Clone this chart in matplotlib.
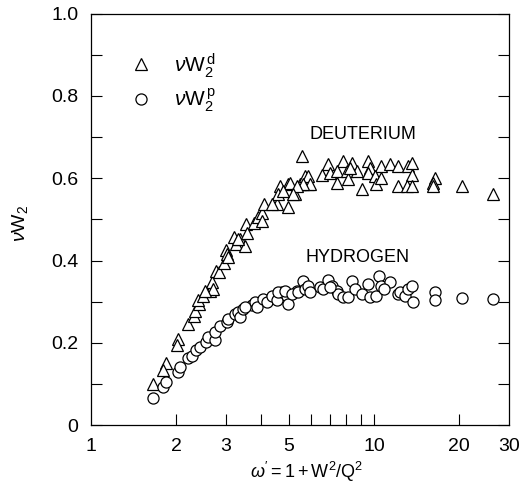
import matplotlib
matplotlib.use("Agg")
import matplotlib.pyplot as plt
from matplotlib.ticker import FixedLocator, NullFormatter, NullLocator

plt.rcParams['font.family'] = ['Liberation Sans', 'DejaVu Sans']
plt.rcParams['mathtext.fontset'] = 'custom'
plt.rcParams['mathtext.rm'] = 'Liberation Sans'
plt.rcParams['mathtext.it'] = 'Liberation Sans:italic'

# Deuterium (triangles): omega', nuW2
deut_x = [1.66, 1.84, 1.80, 2.03, 2.02, 2.21, 2.31, 2.33, 2.41, 2.39, 2.49, 2.63, 2.67, 2.70,
          2.77, 2.84, 2.95, 3.00, 3.02, 3.06, 3.21, 3.27, 3.36, 3.50, 3.52, 3.55, 3.77, 3.90,
          4.01, 4.10, 4.53, 4.98, 4.65, 4.98, 5.48, 5.86, 4.59, 5.26, 4.35, 4.01, 3.31, 2.53,
          5.55, 6.90, 7.80, 8.34, 9.55, 9.68, 10.6, 11.4, 6.53, 6.99, 7.38, 8.01, 8.69, 9.55,
          10.1, 5.70, 5.86, 5.94, 5.63, 5.05, 5.33, 5.19, 4.78, 7.38, 8.11, 9.05, 10.2, 12.2,
          12.2, 13.2, 13.6, 13.6, 13.1, 13.6, 10.6, 16.4, 16.2, 16.2, 20.4, 26.4, 8.22]
deut_y = [0.099, 0.150, 0.133, 0.210, 0.194, 0.246, 0.266, 0.278, 0.295, 0.303, 0.315, 0.327,
          0.347, 0.331, 0.375, 0.371, 0.395, 0.425, 0.416, 0.408, 0.458, 0.440, 0.452, 0.436,
          0.488, 0.468, 0.491, 0.506, 0.516, 0.538, 0.538, 0.529, 0.581, 0.585, 0.585, 0.585,
          0.561, 0.561, 0.537, 0.496, 0.452, 0.327, 0.654, 0.634, 0.642, 0.638, 0.642, 0.625,
          0.630, 0.634, 0.609, 0.613, 0.617, 0.617, 0.617, 0.613, 0.605, 0.605, 0.605, 0.585,
          0.585, 0.589, 0.581, 0.561, 0.569, 0.589, 0.597, 0.573, 0.585, 0.581, 0.630, 0.630,
          0.638, 0.609, 0.581, 0.581, 0.601, 0.601, 0.589, 0.581, 0.581, 0.561, 0.625]

# Hydrogen (circles): omega', nuW2
hyd_x = [1.66, 1.80, 1.85, 2.03, 2.06, 2.21, 2.27, 2.36, 2.43, 2.55, 2.60, 2.74, 2.74, 2.86,
         3.02, 3.06, 3.23, 3.31, 3.36, 3.45, 3.70, 3.80, 3.85, 4.06, 4.18, 4.35, 4.53, 4.72,
         4.92, 4.98, 5.33, 3.50, 4.59, 4.85, 5.12, 5.40, 5.63, 5.70, 5.86, 5.94, 6.44, 6.62,
         6.90, 7.09, 7.38, 7.48, 7.79, 8.11, 8.34, 8.57, 9.05, 9.55, 9.68, 10.2, 10.4, 6.99,
         10.6, 11.4, 12.2, 10.9, 12.4, 12.9, 13.2, 13.6, 13.8, 16.4, 16.4, 20.4, 26.4]
hyd_y = [0.066, 0.093, 0.105, 0.129, 0.141, 0.162, 0.169, 0.182, 0.190, 0.202, 0.214, 0.206,
         0.226, 0.240, 0.250, 0.258, 0.270, 0.274, 0.262, 0.283, 0.291, 0.299, 0.286, 0.307,
         0.299, 0.315, 0.303, 0.323, 0.315, 0.295, 0.327, 0.286, 0.323, 0.327, 0.319, 0.323,
         0.351, 0.331, 0.339, 0.323, 0.335, 0.331, 0.353, 0.339, 0.327, 0.319, 0.311, 0.311,
         0.351, 0.331, 0.319, 0.343, 0.311, 0.315, 0.363, 0.335, 0.339, 0.347, 0.319, 0.331,
         0.323, 0.315, 0.331, 0.339, 0.299, 0.323, 0.303, 0.308, 0.307]

x_ticks = [2, 3, 4, 5, 6, 7, 8, 9, 10, 20]
x_label_vals = [1, 2, 3, 5, 10, 20, 30]
x_label_txt = ["1", "2", "3", "5", "10", "20", "30"]
y_major = [0, 0.2, 0.4, 0.6, 0.8, 1.0]
y_major_txt = ["0", "0.2", "0.4", "0.6", "0.8", "1.0"]
y_minor = [0.1, 0.3, 0.5, 0.7, 0.9]

fig = plt.figure(figsize=(5.22, 4.87), dpi=100)
ax = fig.add_axes([0.174, 0.127, 0.801, 0.845])

ax.set_xscale('log')
ax.set_xlim(1, 30)
ax.set_ylim(0, 1.0)

ax.plot(deut_x, deut_y, linestyle='none', marker='^', markersize=9,
        markerfacecolor='white', markeredgecolor='black', markeredgewidth=0.9,
        label=r'$\nu\mathrm{W}_2^{\,\mathrm{d}}$')
ax.plot(hyd_x, hyd_y, linestyle='none', marker='o', markersize=8,
        markerfacecolor='white', markeredgecolor='black', markeredgewidth=0.9,
        label=r'$\nu\mathrm{W}_2^{\,\mathrm{p}}$')

# x ticks: inward marks at bottom, labels separately
ax.xaxis.set_major_locator(FixedLocator(x_ticks))
ax.xaxis.set_minor_locator(NullLocator())
ax.xaxis.set_major_formatter(NullFormatter())
ax.xaxis.set_minor_formatter(NullFormatter())
ax.tick_params(axis='x', which='major', direction='in', length=8, width=0.8,
               top=False, bottom=True)
for v, t in zip(x_label_vals, x_label_txt):
    ax.text(v, -0.032, t, transform=ax.get_xaxis_transform(), ha='center', va='top',
            fontsize=14)

ax.set_yticks(y_major)
ax.set_yticklabels(y_major_txt, fontsize=14)
ax.set_yticks(y_minor, minor=True)
ax.tick_params(axis='y', which='both', direction='in', length=8, width=0.8,
               left=True, right=True, pad=9)

for s in ax.spines.values():
    s.set_linewidth(0.9)

ax.set_xlabel(r"$\omega' = 1 + \mathrm{W}^2/\mathrm{Q}^2$", fontsize=13)
ax.xaxis.set_label_coords(0.515, -0.085)
ax.xaxis.label.set_va('top')
ax.set_ylabel(r"$\nu\mathrm{W}_2$", fontsize=14)
ax.yaxis.set_label_coords(-0.145, 0.49)

ax.text(9.15, 0.707, "DEUTERIUM", ha='center', va='center', fontsize=13)
ax.text(8.78, 0.407, "HYDROGEN", ha='center', va='center', fontsize=13)

ax.legend(loc='upper left', bbox_to_anchor=(0.04, 0.94), frameon=False, fontsize=15,
          handletextpad=0.6, labelspacing=0.35, borderaxespad=0.2)

fig.savefig("out.png", dpi=100)
